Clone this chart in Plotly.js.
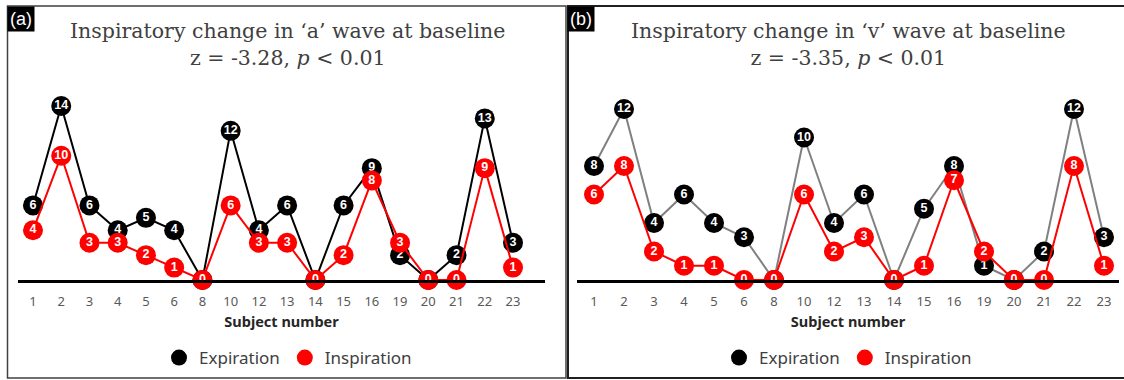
<!DOCTYPE html>
<html>
<head>
<meta charset="utf-8">
<script src="https://cdn.plot.ly/plotly-3.0.1.min.js"></script>
<style>html,body{margin:0;padding:0;background:#fff;}#chart{width:1124px;height:380px;}</style>
</head>
<body>
<div id="chart"></div>
<script>
const subjects = ['1','2','3','4','5','6','8','10','12','13','14','15','16','19','20','21','22','23'];
const expA = [6,14,6,4,5,4,0,12,4,6,0,6,9,2,0,2,13,3];
const inspA = [4,10,3,3,2,1,0,6,3,3,0,2,8,3,0,0,9,1];
const expB = [8,12,4,6,4,3,0,10,4,6,0,5,8,1,0,2,12,3];
const inspB = [6,8,2,1,1,0,0,6,2,3,0,1,7,2,0,0,8,1];
const titleA = 'Inspiratory change in ‘a’ wave at baseline<br>z = -3.28, <i>p</i> &lt; 0.01';
const titleB = 'Inspiratory change in ‘v’ wave at baseline<br>z = -3.35, <i>p</i> &lt; 0.01';

const W = 1124, H = 380;
const px = v => v / W;
const py = v => 1 - v / H;

const RED = '#ff0000';
const BLACK = '#000000';
const labelFont = {family: 'Liberation Sans, Arial, sans-serif', size: 12.5, color: '#ffffff', weight: 'bold'};

function series(x, y, lineColor, markColor, xa, ya) {
  return {
    x: x, y: y, xaxis: xa, yaxis: ya, type: 'scatter',
    mode: 'lines+markers+text', text: y.map(String), textposition: 'middle center',
    textfont: labelFont, cliponaxis: false, showlegend: false, hoverinfo: 'skip',
    line: {color: lineColor, width: 2},
    marker: {color: markColor, size: 20, line: {width: 0}}
  };
}
function legendItem(name, color, leg) {
  return {x: [null], y: [null], type: 'scatter', mode: 'markers', name: name,
    marker: {color: color, size: 16}, legend: leg, showlegend: true, hoverinfo: 'skip'};
}

const data = [
  series(subjects, expA, BLACK, BLACK, 'x', 'y'),
  series(subjects, inspA, RED, RED, 'x', 'y'),
  series(subjects, expB, '#808080', BLACK, 'x2', 'y2'),
  series(subjects, inspB, RED, RED, 'x2', 'y2'),
  legendItem('Expiration', BLACK, 'legend'),
  legendItem('Inspiration', RED, 'legend'),
  legendItem('Expiration', BLACK, 'legend2'),
  legendItem('Inspiration', RED, 'legend2')
];

const tickFont = {family: 'Noto Sans, Open Sans, sans-serif', size: 13, color: '#595959'};
const axTitleFont = {family: 'Noto Sans, Open Sans, sans-serif', size: 14.5, color: '#262626', weight: 'bold'};
function xAxis(domain, range, anchor) {
  return {
    domain: domain, range: range, type: 'category', anchor: anchor,
    showline: true, linecolor: '#000', linewidth: 2.5, showgrid: false, zeroline: false,
    ticks: '', tickfont: tickFont, ticklabelstandoff: 8, automargin: false,
    title: {text: 'Subject number', font: axTitleFont, standoff: 8}, fixedrange: true
  };
}
function yAxis(range, anchor) {
  return {domain: [py(280), py(80)], range: range, visible: false, anchor: anchor,
    showgrid: false, zeroline: false, fixedrange: true};
}
const legFont = {family: 'Noto Sans, Open Sans, sans-serif', size: 17, color: '#404040'};

const layout = {
  width: W, height: H,
  margin: {l: 0, r: 0, t: 0, b: 0},
  paper_bgcolor: '#ffffff', plot_bgcolor: 'rgba(0,0,0,0)',
  xaxis: xAxis([px(18), px(545)], [-0.531, 18.133], 'y'),
  yaxis: yAxis([0, 200 / 12.43], 'x'),
  xaxis2: xAxis([px(577), px(1119)], [-0.567, 17.5], 'y2'),
  yaxis2: yAxis([0, 200 / 14.25], 'x2'),
  legend: {orientation: 'h', x: px(288), xanchor: 'center', y: py(358), yanchor: 'middle',
    font: legFont, itemwidth: 30, tracegroupgap: 0, bgcolor: 'rgba(0,0,0,0)'},
  legend2: {orientation: 'h', x: px(848), xanchor: 'center', y: py(358), yanchor: 'middle',
    font: legFont, itemwidth: 30, tracegroupgap: 0, bgcolor: 'rgba(0,0,0,0)'},
  shapes: [
    {type: 'rect', xref: 'paper', yref: 'paper', x0: px(7.5), x1: px(566), y0: py(378), y1: py(6),
      line: {color: '#404040', width: 1.5}},
    {type: 'rect', xref: 'paper', yref: 'paper', x0: px(568), x1: px(1130), y0: py(378), y1: py(6),
      line: {color: '#202020', width: 2}}
  ],
  annotations: [
    {text: titleA, xref: 'paper', yref: 'paper', x: px(287), y: py(44), xanchor: 'center', yanchor: 'middle',
      showarrow: false, font: {family: 'DejaVu Serif, Liberation Serif, serif', size: 20.5, color: '#404040'}},
    {text: titleB, xref: 'paper', yref: 'paper', x: px(848), y: py(44), xanchor: 'center', yanchor: 'middle',
      showarrow: false, font: {family: 'DejaVu Serif, Liberation Serif, serif', size: 20.5, color: '#404040'}},
    {text: '(a)', xref: 'paper', yref: 'paper', x: px(7), y: py(6), xanchor: 'left', yanchor: 'top',
      showarrow: false, bgcolor: '#000', borderpad: 2,
      font: {family: 'Liberation Sans, Arial, sans-serif', size: 18, color: '#fff'}},
    {text: '(b)', xref: 'paper', yref: 'paper', x: px(567), y: py(6), xanchor: 'left', yanchor: 'top',
      showarrow: false, bgcolor: '#000', borderpad: 2,
      font: {family: 'Liberation Sans, Arial, sans-serif', size: 18, color: '#fff'}}
  ]
};

Plotly.newPlot('chart', data, layout, {displayModeBar: false, staticPlot: true});
</script>
</body>
</html>
